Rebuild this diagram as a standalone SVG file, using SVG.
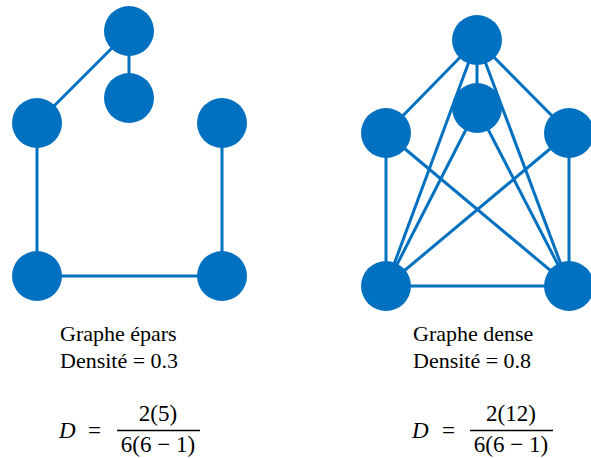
<svg xmlns="http://www.w3.org/2000/svg" width="591" height="458" viewBox="0 0 591 458">
<style>
.e{stroke:#0070C0;stroke-width:3;fill:none}
.n{fill:#0070C0}
.t{font-size:22px;fill:#000}
.m{font-size:23px;fill:#000}
.bar{stroke:#000;stroke-width:1.3}
</style>
<rect width="591" height="458" fill="#fff"/>
<g id="connectors">
<line class="e" x1="129" y1="31" x2="37" y2="123"/>
<line class="e" x1="129" y1="31" x2="129" y2="98"/>
<line class="e" x1="37" y1="123" x2="37" y2="276"/>
<line class="e" x1="222" y1="123" x2="222" y2="276"/>
<line class="e" x1="37" y1="276" x2="222" y2="276"/>
<line class="e" x1="477" y1="40" x2="386" y2="133"/>
<line class="e" x1="477" y1="40" x2="569" y2="133"/>
<line class="e" x1="477" y1="40" x2="477" y2="108"/>
<line class="e" x1="477" y1="40" x2="386" y2="286"/>
<line class="e" x1="477" y1="40" x2="569" y2="286"/>
<line class="e" x1="477" y1="108" x2="386" y2="286"/>
<line class="e" x1="477" y1="108" x2="569" y2="286"/>
<line class="e" x1="386" y1="133" x2="386" y2="286"/>
<line class="e" x1="386" y1="133" x2="569" y2="286"/>
<line class="e" x1="569" y1="133" x2="386" y2="286"/>
<line class="e" x1="569" y1="133" x2="569" y2="286"/>
<line class="e" x1="386" y1="286" x2="569" y2="286"/>
</g>
<g id="s1"><circle class="n" cx="129" cy="31" r="25"/></g>
<g id="s2"><circle class="n" cx="129" cy="98" r="25"/></g>
<g id="s3"><circle class="n" cx="37" cy="123" r="25"/></g>
<g id="s4"><circle class="n" cx="222" cy="123" r="25"/></g>
<g id="s5"><circle class="n" cx="37" cy="276" r="25"/></g>
<g id="s6"><circle class="n" cx="222" cy="276" r="25"/></g>
<g id="d1"><circle class="n" cx="477" cy="40" r="25"/></g>
<g id="d2"><circle class="n" cx="477" cy="108" r="25"/></g>
<g id="d3"><circle class="n" cx="386" cy="133" r="25"/></g>
<g id="d4"><circle class="n" cx="569" cy="133" r="25"/></g>
<g id="d5"><circle class="n" cx="386" cy="286" r="25"/></g>
<g id="d6"><circle class="n" cx="569" cy="286" r="25"/></g>
<g font-family="Liberation Serif, Tinos, Times New Roman, Times, DejaVu Serif, serif">
<g id="label-sparse">
<text class="t" x="60" y="341">Graphe épars</text>
<text class="t" x="60" y="368">Densité = 0.3</text>
</g>
<g id="label-dense">
<text class="t" x="413" y="341">Graphe dense</text>
<text class="t" x="413" y="368">Densité = 0.8</text>
</g>
<g id="formula-sparse">
<text class="m" x="59" y="438" font-style="italic">D</text>
<text class="m" x="88" y="438">=</text>
<text class="m" x="158" y="421" text-anchor="middle">2(5)</text>
<line class="bar" x1="117" y1="430.5" x2="200" y2="430.5"/>
<text class="m" x="158" y="452" text-anchor="middle">6(6 − 1)</text>
</g>
<g id="formula-dense">
<text class="m" x="412" y="438" font-style="italic">D</text>
<text class="m" x="442" y="438">=</text>
<text class="m" x="511" y="421" text-anchor="middle">2(12)</text>
<line class="bar" x1="470" y1="430.5" x2="553" y2="430.5"/>
<text class="m" x="511" y="452" text-anchor="middle">6(6 − 1)</text>
</g>
</g>
</svg>
